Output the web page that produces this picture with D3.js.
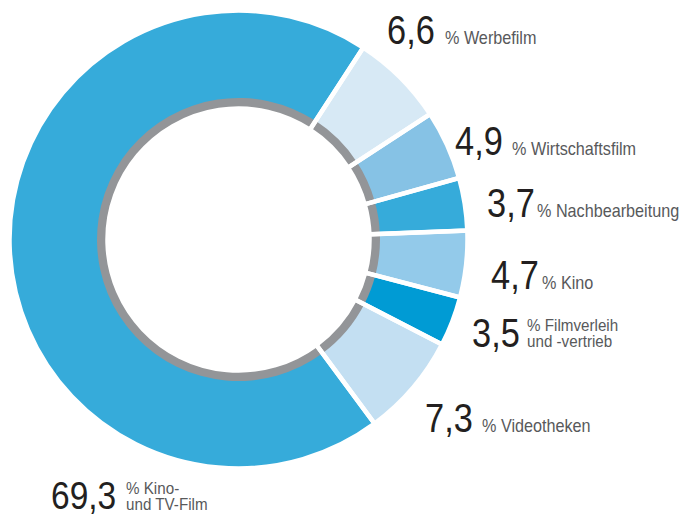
<!DOCTYPE html>
<html>
<head>
<meta charset="utf-8">
<script src="https://cdn.jsdelivr.net/npm/d3@7/dist/d3.min.js"></script>
<style>
  html, body { margin: 0; padding: 0; background: #fff; }
  svg { display: block; }
</style>
</head>
<body>
<script>
// ---- data ----
const categories = ["Werbefilm", "Wirtschaftsfilm", "Nachbearbeitung", "Kino", "Filmverleih und -vertrieb", "Videotheken", "Kino- und TV-Film"];
const values = [6.6, 4.9, 3.7, 4.7, 3.5, 7.3, 69.3];
const valueLabels = ["6,6", "4,9", "3,7", "4,7", "3,5", "7,3", "69,3"];
const labelLines = [["% Werbefilm"], ["% Wirtschaftsfilm"], ["% Nachbearbeitung"], ["% Kino"], ["% Filmverleih", "und -vertrieb"], ["% Videotheken"], ["% Kino-", "und TV-Film"]];
const colors = ["#d7e9f5", "#86c2e5", "#36abda", "#93caea", "#009bd4", "#c3dff2", "#36abda"];

// ---- layout (label anchors) ----
const numPos = [[387, 44], [455, 155], [487, 217], [491, 289], [472, 347], [425, 432], [51, 508.5]];
const txtPos = [[445, 44], [512, 155], [537, 217], [542, 289], [527, 331], [482, 432], [126, 494]];

const W = 689, H = 517;
const cx = 238.5, cy = 239.5;
const rIn = 131, rGray = 141.5, rOut = 229;

const svg = d3.select("body").append("svg").attr("width", W).attr("height", H);
const g = svg.append("g").attr("transform", `translate(${cx},${cy})`);

const total = d3.sum(values);
const smallTotal = total - values[values.length - 1];
const start = Math.PI / 2 - (smallTotal / total) * Math.PI - 0.03;

const pie = d3.pie().sort(null).value(d => d).startAngle(start).endAngle(start + 2 * Math.PI);
const arcs = pie(values);

const arcFull = d3.arc().innerRadius(rIn).outerRadius(rOut);
const arcGray = d3.arc().innerRadius(rIn).outerRadius(rGray);

g.selectAll("path.slice").data(arcs).join("path")
  .attr("class", "slice")
  .attr("d", arcFull)
  .attr("fill", (d, i) => colors[i]);

g.selectAll("path.gray").data(arcs).join("path")
  .attr("class", "gray")
  .attr("d", arcGray)
  .attr("fill", "#939598");

g.selectAll("path.sep").data(arcs).join("path")
  .attr("class", "sep")
  .attr("d", arcFull)
  .attr("fill", "none")
  .attr("stroke", "#ffffff")
  .attr("stroke-width", 4.5)
  .attr("stroke-linejoin", "miter");

// ---- labels ----
const font = "'Liberation Sans', Arial, sans-serif";
values.forEach((v, i) => {
  const [nx, ny] = numPos[i];
  svg.append("text")
    .attr("transform", `translate(${nx},${ny}) scale(0.86,1)`)
    .attr("font-family", font)
    .attr("font-size", i === values.length - 1 ? 39 : 40)
    .attr("fill", "#231f20")
    .text(valueLabels[i]);
  const [tx, ty] = txtPos[i];
  const lines = labelLines[i];
  const two = lines.length > 1;
  const fs = two ? 16 : 18;
  const sx = two ? 0.95 : 0.9;
  const t = svg.append("text")
    .attr("transform", `translate(${tx},${ty}) scale(${sx},1)`)
    .attr("font-family", font)
    .attr("font-size", fs)
    .attr("fill", "#58595b");
  lines.forEach((ln, j) => {
    t.append("tspan").attr("x", 0).attr("y", j * 16).text(ln);
  });
});
</script>
</body>
</html>
